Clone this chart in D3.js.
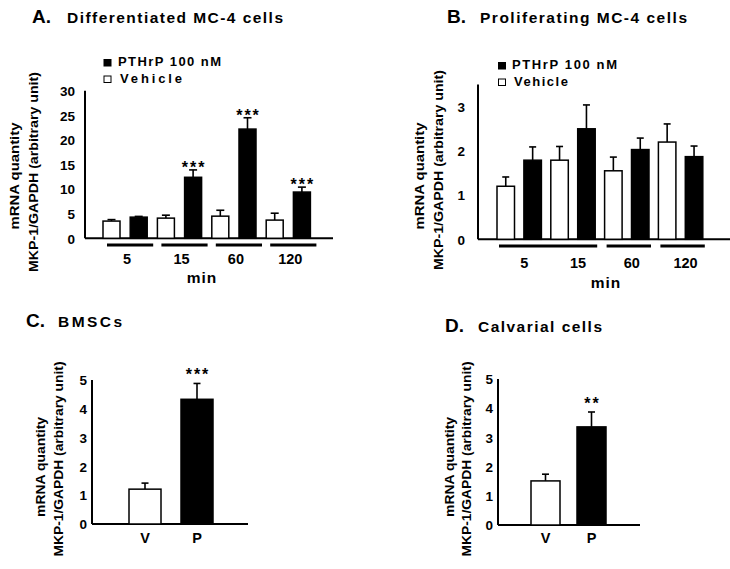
<!DOCTYPE html>
<html><head><meta charset="utf-8">
<script src="https://cdn.jsdelivr.net/npm/d3@7/dist/d3.min.js"></script>
<style>
html,body{margin:0;padding:0;background:#fff;}
svg{display:block;font-family:"Liberation Sans",Arial,Helvetica,sans-serif;font-weight:bold;}
</style></head>
<body>
<svg id="chart" width="730" height="569"></svg>
<script>
// ---------- DATA ----------
const periods = ["5", "15", "60", "120"];
const seriesNames = ["PTHrP 100 nM", "Vehicle"];

// Panel A: Differentiated MC-4 cells
const aVehicle    = [3.5, 4.1, 4.5, 3.7];
const aVehicleErr = [0.3, 0.6, 1.2, 1.4];
const aPthrp      = [4.3, 12.4, 22.2, 9.4];
const aPthrpErr   = [0.15, 1.5, 2.3, 1.0];
const aSig        = ["", "***", "***", "***"];
const aTicks      = [0, 5, 10, 15, 20, 25, 30];

// Panel B: Proliferating MC-4 cells
const bVehicle    = [1.2, 1.79, 1.55, 2.2];
const bVehicleErr = [0.21, 0.31, 0.31, 0.41];
const bPthrp      = [1.79, 2.5, 2.03, 1.87];
const bPthrpErr   = [0.3, 0.54, 0.26, 0.24];
const bTicks      = [0, 1, 2, 3];
const bUnderlineGroups = [[0, 3], [4, 5], [6, 7]];

// Panel C: BMSCs ; Panel D: Calvarial cells
const vpLabels = ["V", "P"];
const cValues  = [1.21, 4.33];
const cErr     = [0.21, 0.55];
const cSig     = ["", "***"];
const dValues  = [1.51, 3.36];
const dErr     = [0.23, 0.51];
const dSig     = ["", "**"];
const cdTicks  = [0, 1, 2, 3, 4, 5];

const yLabel1 = "mRNA quantity";
const yLabel2 = "MKP-1/GAPDH (arbitrary unit)";

// ---------- DRAW ----------
const svg = d3.select("#chart");

function band(n, first, step, bw) {
  return d3.scaleBand().domain(d3.range(n))
    .range([first, first + step * (n - 1) + bw])
    .paddingInner(1 - bw / step).paddingOuter(0);
}

function title(letter, lx, rest, rx, rw, y) {
  svg.append("text").attr("x", lx).attr("y", y).attr("font-size", 19).text(letter + ".");
  svg.append("text").attr("x", rx).attr("y", y).attr("font-size", 15.5)
    .attr("textLength", rw).attr("lengthAdjust", "spacing").text(rest);
}

function yLabels(x1, x2, cy1, cy2, len1, len2) {
  svg.append("text").attr("transform", `translate(${x1},${cy1}) rotate(-90)`)
    .attr("text-anchor", "middle").attr("font-size", 13.5)
    .attr("textLength", len1).attr("lengthAdjust", "spacingAndGlyphs").text(yLabel1);
  svg.append("text").attr("transform", `translate(${x2},${cy2}) rotate(-90)`)
    .attr("text-anchor", "middle").attr("font-size", 13.5)
    .attr("textLength", len2).attr("lengthAdjust", "spacingAndGlyphs").text(yLabel2);
}

function legend(sx, sy, tx, w1, w2) {
  const fills = ["#000", "#fff"];
  seriesNames.forEach((s, i) => {
    const yy = sy + i * 16.5;
    svg.append("rect").attr("x", sx).attr("y", yy).attr("width", 7).attr("height", 6.5)
      .attr("fill", fills[i]).attr("stroke", "#000").attr("stroke-width", 1);
    svg.append("text").attr("x", tx + (i ? 2 : 0)).attr("y", yy + 6.5).attr("font-size", 13)
      .attr("textLength", i ? w2 : w1).attr("lengthAdjust", "spacing").text(s);
  });
}

function drawBars(bars, x, y, capW, sigOffset, sigSize) {
  const g = svg.append("g");
  const bw = x.bandwidth();
  bars.forEach((b, i) => {
    const cx = x(i) + bw / 2;
    g.append("line").attr("x1", cx).attr("x2", cx)
      .attr("y1", y(b.v)).attr("y2", y(b.v + b.e))
      .attr("stroke", "#000").attr("stroke-width", 1.6);
    g.append("line").attr("x1", cx - capW / 2).attr("x2", cx + capW / 2)
      .attr("y1", y(b.v + b.e)).attr("y2", y(b.v + b.e))
      .attr("stroke", "#000").attr("stroke-width", 1.6);
    g.append("rect").attr("x", x(i)).attr("y", y(b.v))
      .attr("width", bw).attr("height", y(0) - y(b.v))
      .attr("fill", b.fill).attr("stroke", "#000").attr("stroke-width", 1.5);
    if (b.sig) {
      g.append("text").attr("x", cx + 1).attr("y", y(b.v + b.e) + sigOffset)
        .attr("text-anchor", "middle").attr("font-size", sigSize)
        .attr("letter-spacing", 2).text(b.sig);
    }
  });
}

function axes(x0, x1, y, ticks, pad) {
  const ax = svg.append("g").attr("transform", `translate(${x0},0)`)
    .call(d3.axisLeft(y).tickValues(ticks).tickSize(0).tickPadding(pad).tickFormat(d3.format("d")));
  ax.select(".domain").attr("stroke-width", 2).attr("d", `M0,${y(0)}V${y.range()[1]}`);
  ax.selectAll("text").attr("font-size", 13.5).attr("font-family", null).attr("font-weight", "bold")
    .attr("dy", "0.35em");
  ax.attr("font-family", null);
  svg.append("line").attr("x1", x0).attr("x2", x1).attr("y1", y(0)).attr("y2", y(0))
    .attr("stroke", "#000").attr("stroke-width", 2);
}

// ---- Panel A ----
(function () {
  const y = d3.scaleLinear().domain([0, 30]).range([238.3, 90.7]);
  const x = band(8, 103, 27.2, 17);
  const bars = [];
  periods.forEach((p, i) => {
    bars.push({ v: aVehicle[i], e: aVehicleErr[i], fill: "#fff", sig: "" });
    bars.push({ v: aPthrp[i], e: aPthrpErr[i], fill: "#000", sig: aSig[i] });
  });
  title("A", 32, "Differentiated MC-4 cells", 67, 216, 23);
  yLabels(19, 38, 176, 172, 107, 200);
  legend(104, 59.5, 118, 103, 62);
  axes(85, 333, y, aTicks, 10);
  drawBars(bars, x, y, 8, 3, 16);
  periods.forEach((p, i) => {
    const a = x(2 * i) + 4, b = x(2 * i + 1) + x.bandwidth() + 6;
    svg.append("line").attr("x1", a).attr("x2", b).attr("y1", 245).attr("y2", 245)
      .attr("stroke", "#000").attr("stroke-width", 3);
    svg.append("text").attr("x", (a + b) / 2 - 3).attr("y", 263.5).attr("text-anchor", "middle")
      .attr("font-size", 14.5).text(p);
  });
  svg.append("text").attr("x", 202).attr("y", 283).attr("text-anchor", "middle")
    .attr("font-size", 15.5).attr("letter-spacing", 1).text("min");
})();

// ---- Panel B ----
(function () {
  const y = d3.scaleLinear().domain([0, 3.5]).range([239.3, 239.3 - 3.5 * 44.2]);
  const x = band(8, 497, 26.9, 17.5);
  const bars = [];
  periods.forEach((p, i) => {
    bars.push({ v: bVehicle[i], e: bVehicleErr[i], fill: "#fff", sig: "" });
    bars.push({ v: bPthrp[i], e: bPthrpErr[i], fill: "#000", sig: "" });
  });
  title("B", 447, "Proliferating MC-4 cells", 480, 207, 23);
  yLabels(424, 443, 176, 170, 107, 200);
  legend(498.5, 62.5, 512, 105, 54);
  axes(478, 731, y, bTicks, 13);
  drawBars(bars, x, y, 7, 3, 16);
  bUnderlineGroups.forEach(([s, e]) => {
    const a = x(s) + 2, b = x(e) + x.bandwidth() + 2;
    svg.append("line").attr("x1", a).attr("x2", b).attr("y1", 246).attr("y2", 246)
      .attr("stroke", "#000").attr("stroke-width", 3);
  });
  periods.forEach((p, i) => {
    const c = (x(2 * i) + x(2 * i + 1) + x.bandwidth()) / 2 + 5;
    svg.append("text").attr("x", c).attr("y", 268).attr("text-anchor", "middle")
      .attr("font-size", 14.5).text(p);
  });
  svg.append("text").attr("x", 606).attr("y", 288).attr("text-anchor", "middle")
    .attr("font-size", 15.5).attr("letter-spacing", 1).text("min");
})();

// ---- Panel C & D ----
function vpPanel(cfg, vals, errs, sigs) {
  const y = d3.scaleLinear().domain([0, 5]).range([cfg.y0, cfg.y5]);
  const x = band(2, cfg.first, cfg.step, cfg.bw);
  const fills = ["#fff", "#000"];
  const bars = vals.map((v, i) => ({ v: v, e: errs[i], fill: fills[i], sig: sigs[i] }));
  axes(cfg.ax0, cfg.ax1, y, cdTicks, 5);
  drawBars(bars, x, y, 7, -3, 16);
  vpLabels.forEach((l, i) => {
    svg.append("text").attr("x", x(i) + x.bandwidth() / 2).attr("y", 543)
      .attr("text-anchor", "middle").attr("font-size", 14.5).text(l);
  });
}
title("C", 26, "BMSCs", 58, 64, 327);
yLabels(45, 63, 467, 459, 100, 195);
vpPanel({ y0: 524, y5: 380, first: 129, step: 52, bw: 32, ax0: 92, ax1: 248 }, cValues, cErr, cSig);

title("D", 445, "Calvarial cells", 478, 124, 332);
yLabels(454, 471, 467, 459, 100, 195);
vpPanel({ y0: 525, y5: 379, first: 531, step: 46, bw: 29, ax0: 498, ax1: 640 }, dValues, dErr, dSig);
</script>
</body></html>
